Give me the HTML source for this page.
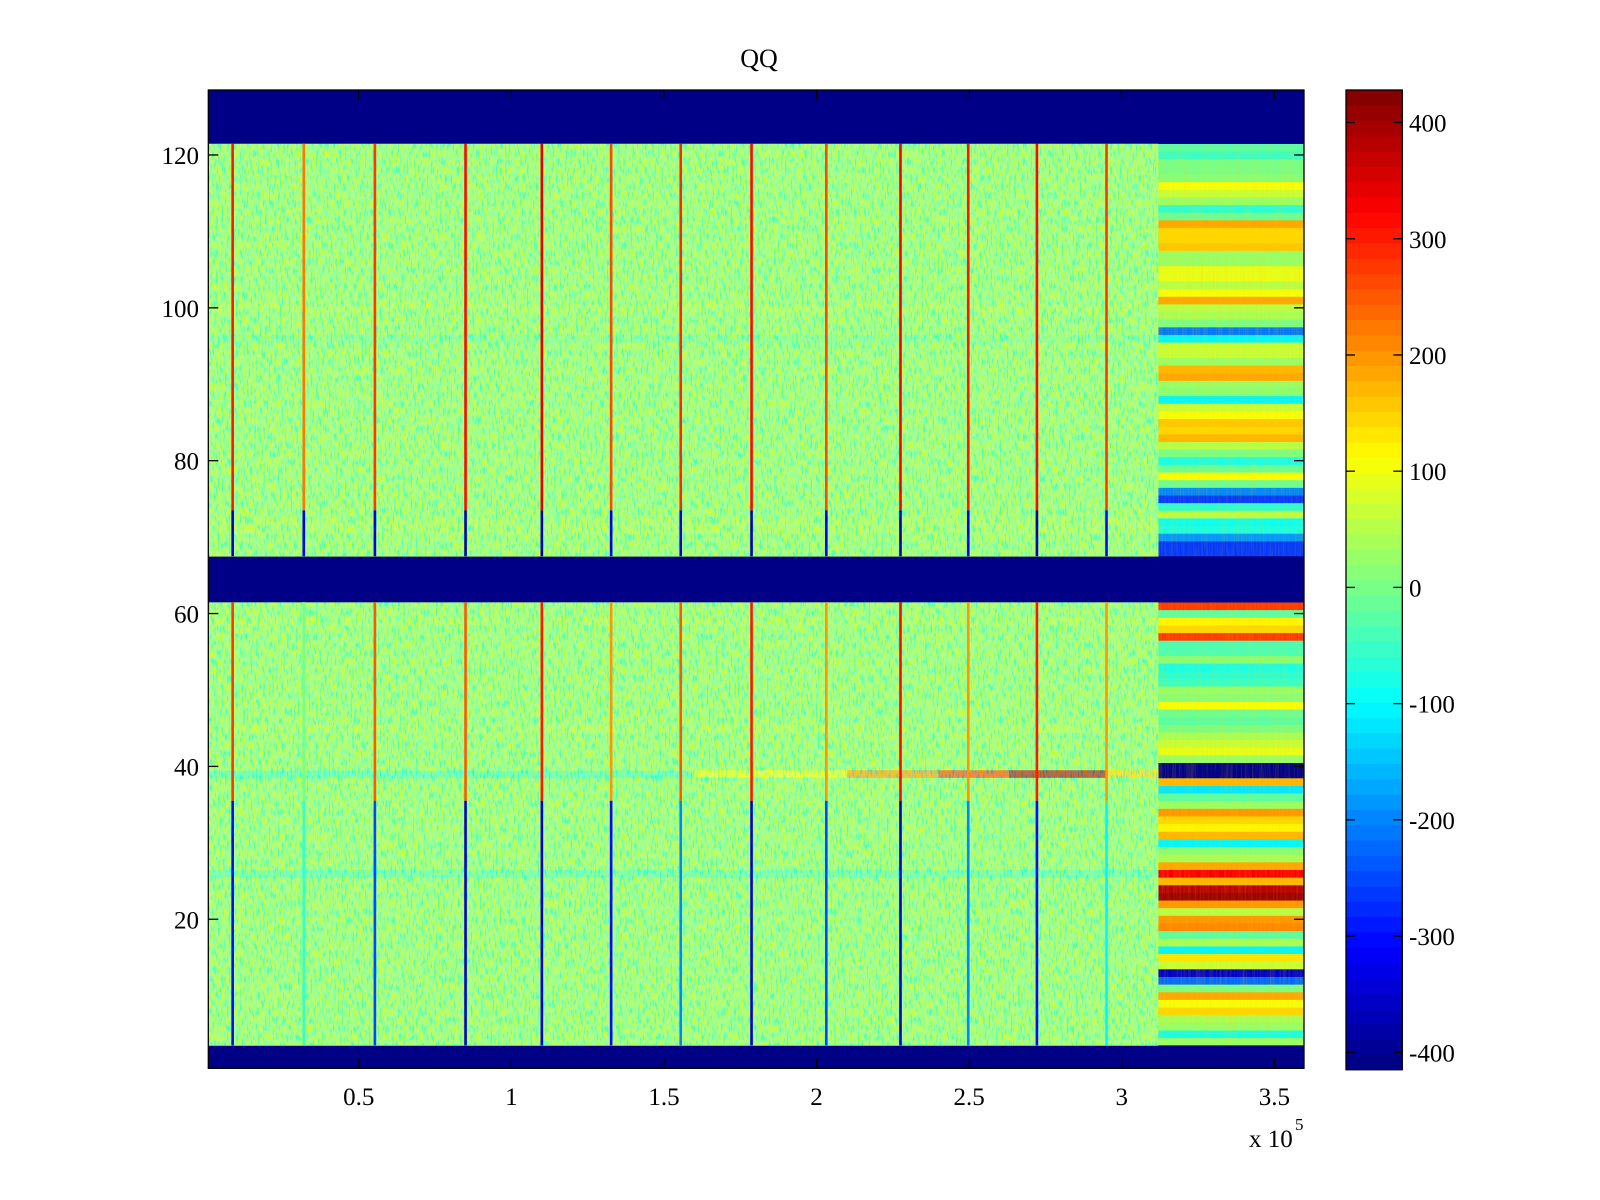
<!DOCTYPE html>
<html><head><meta charset="utf-8"><title>QQ</title>
<style>
html,body{margin:0;padding:0;background:#fff;}
svg{display:block;font-family:"Liberation Serif",serif;}
</style></head>
<body>
<svg id="fig" width="1600" height="1200" viewBox="0 0 1600 1200" xmlns="http://www.w3.org/2000/svg">
<defs>
<filter id="noise" x="0" y="0" width="100%" height="100%">
<feTurbulence type="fractalNoise" baseFrequency="0.55 0.12" numOctaves="2" seed="3"/>
<feColorMatrix type="matrix" values="2.8 0 0 0 -0.9  0 0 0 0 1  -2.8 0 0 0 1.9  0 0 0 0 0.5"/>
</filter>
<filter id="noise2" x="0" y="0" width="100%" height="100%">
<feTurbulence type="fractalNoise" baseFrequency="0.6 0.02" numOctaves="2" seed="7"/>
<feColorMatrix type="matrix" values="0 0 0 0 1  0 0 0 0 0.6  0 0 0 0 0  1.2 0 0 0 -0.45"/>
</filter>
<clipPath id="dataclip"><rect id="clipA" x="0" y="0" width="0" height="0"/><rect id="clipB" x="0" y="0" width="0" height="0"/></clipPath>
</defs>
<rect width="1600" height="1200" fill="#fff"/>
<text x="759" y="67" font-size="26" text-anchor="middle">QQ</text>
<g id="heat"></g>
<g id="axes"></g>
<g id="cbar"></g>
</svg>
<script>
// ---- data ----
const clim = [-415, 428];
const xLim = [0.0072, 3.597];   // x 10^5
const yLim = [0.5, 128.5];
const xTicks = [0.5, 1, 1.5, 2, 2.5, 3, 3.5];
const xTickLabels = ["0.5", "1", "1.5", "2", "2.5", "3", "3.5"];
const yTicks = [20, 40, 60, 80, 100, 120];
const yTickLabels = ["20", "40", "60", "80", "100", "120"];
const cbTicks = [-400, -300, -200, -100, 0, 100, 200, 300, 400];
const cbTickLabels = ["-400", "-300", "-200", "-100", "0", "100", "200", "300", "400"];
const blankRows = [1, 2, 3, 62, 63, 64, 65, 66, 67, 122, 123, 124, 125, 126, 127, 128];
const transitionX = 3.12;
// right-region row values, rows 121 down to 68
const rightTop = [-20, -50, 0, 0, 10, 100, 70, 30, -60, -10, 190, 140, 140, 160, 20, 20, 90, 90, 50, 110, 190, 50, 40, 0, -210, -110, 70, 60, 20, 170, 180, 30, 10, -100, 60, 110, 160, 140, 170, 50, 0, -80, -10, 100, -10, -200, -270, -60, 50, -90, -80, -190, -260, -260];
// right-region row values, rows 61 down to 4
const rightBot = [270, -20, 120, 140, 280, -40, -40, 10, -80, -70, -50, 20, 10, 110, -10, -30, 0, 40, 60, 90, 20, -420, -420, 170, -120, -30, 20, 200, 150, 120, 170, -100, 10, 40, 190, 330, 170, 380, 410, 200, 50, 200, 210, -30, 40, -100, 130, 60, -350, -230, 0, 180, 110, 140, 40, 20, -80, 20];
// left-region special row values (row -> value); others use leftDefault
const leftDefault = 22;
const leftRowsIdx = [39, 26, 72, 71, 45, 59, 100, 96];
const leftRowsVal = [-40, -20, 45, 45, 40, 45, 35, 5];
// row-39 streak segments (x in 1e5)
const streakRow = 39;
const streakX0 = [1.6, 2.1, 2.4, 2.63, 2.95];
const streakX1 = [2.1, 2.4, 2.63, 2.95, 3.12];
const streakVal = [110, 200, 280, 400, 150];
// spikes
const spikeX = [0.087, 0.32, 0.553, 0.85, 1.10, 1.327, 1.555, 1.787, 2.032, 2.275, 2.497, 2.722, 2.95];
const spikeTop = [300, 230, 280, 320, 340, 260, 290, 320, 260, 330, 300, 320, 280];
const spikeTopLow = [-350, -330, -330, -380, -380, -330, -330, -380, -330, -380, -330, -380, -300];
const spikeBotHigh = [280, 0, 250, 250, 300, 200, 250, 300, 200, 320, 200, 300, 200];
const spikeBotLow = [-300, -50, -250, -350, -350, -300, -200, -350, -250, -350, -200, -300, -100];

// ---- geometry ----
const PL = 208.3, PR = 1304, PT = 90, PB = 1068.3;
const CL = 1346, CR = 1402.3, CT = 90, CB = 1069.7;
const sx = v => PL + (v - xLim[0]) / (xLim[1] - xLim[0]) * (PR - PL);
const sy = v => PB - (v - yLim[0]) / (yLim[1] - yLim[0]) * (PB - PT);
const cy = v => CB - (v - clim[0]) / (clim[1] - clim[0]) * (CB - CT);
function jet(v) {
  let t = (v - clim[0]) / (clim[1] - clim[0]);
  t = Math.max(0, Math.min(1, t));
  t = (Math.min(63, Math.floor(t * 64)) + 0.5) / 64;
  const c = x => Math.round(255 * Math.max(0, Math.min(1, x)));
  return `rgb(${c(1.5 - Math.abs(4 * t - 3))},${c(1.5 - Math.abs(4 * t - 2))},${c(1.5 - Math.abs(4 * t - 1))})`;
}
const NS = "http://www.w3.org/2000/svg";
function mk(tag, attrs, parent) {
  const e = document.createElementNS(NS, tag);
  for (const k in attrs) e.setAttribute(k, attrs[k]);
  parent.appendChild(e);
  return e;
}
const heat = document.getElementById("heat");
const rowTop = r => sy(r + 0.5), rowH = r => sy(r - 0.5) - sy(r + 0.5);
const isBlank = r => blankRows.indexOf(r) >= 0;

for (let r = 1; r <= 128; r++) {
  let lv = leftDefault;
  const li = leftRowsIdx.indexOf(r);
  if (li >= 0) lv = leftRowsVal[li];
  if (isBlank(r)) lv = clim[0];
  let rv;
  if (isBlank(r)) rv = clim[0];
  else if (r >= 68) rv = rightTop[121 - r];
  else rv = rightBot[61 - r];
  const a = mk("rect", {x: PL, y: rowTop(r), width: sx(transitionX) - PL + 0.5, height: rowH(r) + 0.4, fill: jet(lv)}, heat);
  
  
  const b = mk("rect", {x: sx(transitionX), y: rowTop(r), width: PR - sx(transitionX), height: rowH(r) + 0.4, fill: jet(rv)}, heat);
  
  
}
for (let i = 0; i < streakVal.length; i++) {
  const s = mk("rect", {x: sx(streakX0[i]), y: rowTop(streakRow), width: sx(streakX1[i]) - sx(streakX0[i]), height: rowH(streakRow), fill: jet(streakVal[i])}, heat);
  
  
}
// noise overlay on left data bands
const cA = document.getElementById("clipA"), cB = document.getElementById("clipB");
const lw = sx(transitionX) - PL;
cA.setAttribute("x", PL); cA.setAttribute("y", rowTop(121)); cA.setAttribute("width", lw); cA.setAttribute("height", sy(67.5) - rowTop(121));
cB.setAttribute("x", PL); cB.setAttribute("y", rowTop(61)); cB.setAttribute("width", lw); cB.setAttribute("height", sy(3.5) - rowTop(61));
const nz = mk("rect", {x: PL, y: PT, width: PR - PL, height: PB - PT, filter: "url(#noise)", "clip-path": "url(#dataclip)", opacity: 0.85}, heat);


const nz2 = mk("rect", {x: sx(transitionX), y: rowTop(121), width: PR - sx(transitionX), height: sy(3.5) - rowTop(121), filter: "url(#noise2)", opacity: 0.35}, heat);


// re-cover blank rows on right
blankRows.forEach(r => {
  const e = mk("rect", {x: sx(transitionX), y: rowTop(r), width: PR - sx(transitionX), height: rowH(r) + 0.4, fill: jet(clim[0])}, heat);
  
  
});
function spikeSeg(xv, r0, r1, val) {
  const e = mk("rect", {x: sx(xv) - 1.3, y: sy(r1 + 0.5), width: 2.6, height: sy(r0 - 0.5) - sy(r1 + 0.5), fill: jet(val)}, heat);
  
  
}
for (let i = 0; i < spikeX.length; i++) {
  spikeSeg(spikeX[i], 74, 121, spikeTop[i]);
  spikeSeg(spikeX[i], 68, 73, spikeTopLow[i]);
  spikeSeg(spikeX[i], 36, 61, spikeBotHigh[i]);
  spikeSeg(spikeX[i], 4, 35, spikeBotLow[i]);
}

const ax = document.getElementById("axes");
const box = mk("rect", {x: PL, y: PT, width: PR - PL, height: PB - PT, fill: "none", stroke: "#000", "stroke-width": 1.3}, ax);


xTicks.forEach((v, i) => {
  const x = sx(v);
  mk("line", {x1: x, x2: x, y1: PB, y2: PB - 10, stroke: "#000", "stroke-width": 1.3}, ax);
  mk("line", {x1: x, x2: x, y1: PT, y2: PT + 10, stroke: "#000", "stroke-width": 1.3}, ax);
  const t = mk("text", {x: x, y: 1105, "font-size": 25, "text-anchor": "middle"}, ax);
  t.textContent = xTickLabels[i];
  
  
});
yTicks.forEach((v, i) => {
  const y = sy(v);
  mk("line", {x1: PL, x2: PL + 10, y1: y, y2: y, stroke: "#000", "stroke-width": 1.3}, ax);
  mk("line", {x1: PR, x2: PR - 10, y1: y, y2: y, stroke: "#000", "stroke-width": 1.3}, ax);
  const t = mk("text", {x: 199, y: y + 9, "font-size": 25, "text-anchor": "end"}, ax);
  t.textContent = yTickLabels[i];
  
  
});
const ex = mk("text", {x: 1249, y: 1147, "font-size": 25}, ax);
ex.textContent = "x 10";


const ex2 = mk("text", {x: 1295, y: 1130, "font-size": 17}, ax);
ex2.textContent = "5";



const cb = document.getElementById("cbar");
for (let k = 0; k < 64; k++) {
  const v0 = clim[0] + (clim[1] - clim[0]) * k / 64, v1 = clim[0] + (clim[1] - clim[0]) * (k + 1) / 64;
  const s = mk("rect", {x: CL, y: cy(v1), width: CR - CL, height: cy(v0) - cy(v1) + 0.5, fill: jet((v0 + v1) / 2)}, cb);
  
  
}
const cbf = mk("rect", {x: CL, y: CT, width: CR - CL, height: CB - CT, fill: "none", stroke: "#000", "stroke-width": 1.3}, cb);


cbTicks.forEach((v, i) => {
  const y = cy(v);
  mk("line", {x1: CL, x2: CL + 9, y1: y, y2: y, stroke: "#000", "stroke-width": 1.3}, cb);
  mk("line", {x1: CR, x2: CR - 9, y1: y, y2: y, stroke: "#000", "stroke-width": 1.3}, cb);
  const t = mk("text", {x: 1409, y: y + 9, "font-size": 25}, cb);
  t.textContent = cbTickLabels[i];
  
  
});
</script>
</body></html>
